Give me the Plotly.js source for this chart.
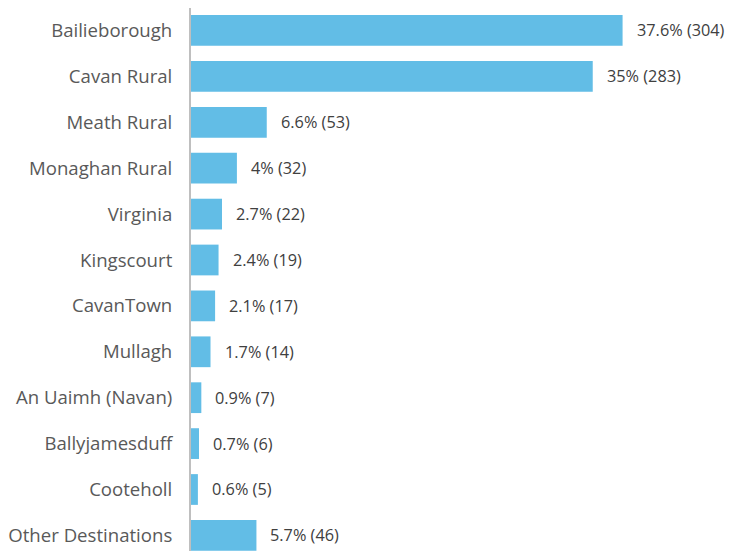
<!DOCTYPE html>
<html><head><meta charset="utf-8">
<script src="https://cdn.plot.ly/plotly-3.0.1.min.js"></script>
<style>html,body{margin:0;padding:0;background:#fff}#c{width:745px;height:551px}</style>
</head><body><div id="c"></div>
<script>
const categories = ["Bailieborough","Cavan Rural","Meath Rural","Monaghan Rural","Virginia","Kingscourt","CavanTown","Mullagh","An Uaimh (Navan)","Ballyjamesduff","Cooteholl","Other Destinations"];
const percents = [37.6, 35, 6.6, 4, 2.7, 2.4, 2.1, 1.7, 0.9, 0.7, 0.6, 5.7];
const counts = [304, 283, 53, 32, 22, 19, 17, 14, 7, 6, 5, 46];
const labels = percents.map((p,i)=> p + "% (" + counts[i] + ")");

const trace = {
  type: "bar", orientation: "h",
  x: percents, y: categories,
  marker: {color: "#62BDE6"},
  width: 0.67,
  hoverinfo: "none"
};
const annotations = percents.map((p,i)=>({
  x: p, y: categories[i], xref: "x", yref: "y",
  text: labels[i], showarrow: false, xanchor: "left", xshift: 12,
  font: {family: "Open Sans", size: 16.3, color: "#404040"}
}));
const layout = {
  width: 745, height: 551,
  margin: {l: 191, r: 26, t: 8, b: 0},
  paper_bgcolor: "#fff", plot_bgcolor: "#fff",
  showlegend: false,
  xaxis: {range: [0, 46], visible: false, fixedrange: true},
  yaxis: {
    type: "category", range: [11.34, -0.49],
    showline: true, linecolor: "#BFBFBF", linewidth: 2,
    showgrid: false, zeroline: false,
    ticks: "outside", ticklen: 13, tickcolor: "rgba(0,0,0,0)",
    tickfont: {family: "Open Sans", size: 18.6, color: "#595959"}
  },
  annotations: annotations
};
Plotly.newPlot("c", [trace], layout, {staticPlot: true});
</script></body></html>
